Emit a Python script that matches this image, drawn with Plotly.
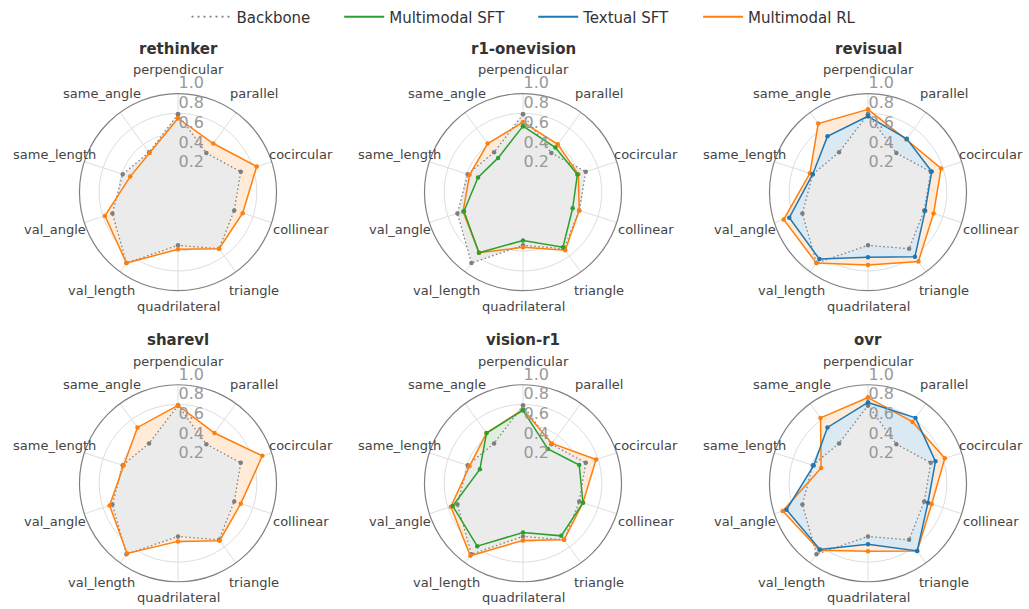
import math
import plotly.graph_objects as go

categories = ["perpendicular", "parallel", "cocircular", "collinear", "triangle",
              "quadrilateral", "val_length", "val_angle", "same_length", "same_angle"]

backbone = [0.79, 0.49, 0.67, 0.60, 0.71, 0.54, 0.89, 0.70, 0.59, 0.50]

panels = ["rethinker", "r1-onevision", "revisual", "sharevl", "vision-r1", "ovr"]

multimodal_sft = {
    "r1-onevision": [0.67, 0.56, 0.58, 0.53, 0.69, 0.49, 0.76, 0.63, 0.48, 0.43],
    "vision-r1":    [0.74, 0.43, 0.60, 0.64, 0.66, 0.50, 0.79, 0.75, 0.46, 0.63],
}
textual_sft = {
    "revisual": [0.77, 0.67, 0.68, 0.61, 0.81, 0.66, 0.84, 0.84, 0.59, 0.70],
    "ovr":      [0.82, 0.82, 0.72, 0.64, 0.85, 0.62, 0.83, 0.87, 0.58, 0.70],
}
multimodal_rl = {
    "rethinker":    [0.75, 0.61, 0.84, 0.69, 0.71, 0.58, 0.89, 0.78, 0.51, 0.49],
    "r1-onevision": [0.71, 0.60, 0.59, 0.60, 0.73, 0.56, 0.76, 0.64, 0.57, 0.61],
    "revisual":     [0.84, 0.66, 0.78, 0.70, 0.87, 0.74, 0.89, 0.90, 0.62, 0.86],
    "sharevl":      [0.79, 0.63, 0.90, 0.67, 0.72, 0.59, 0.88, 0.73, 0.58, 0.70],
    "vision-r1":    [0.75, 0.50, 0.78, 0.64, 0.71, 0.58, 0.91, 0.77, 0.57, 0.63],
    "ovr":          [0.87, 0.77, 0.82, 0.68, 0.85, 0.69, 0.84, 0.91, 0.50, 0.82],
}

radial_ticks = [0.2, 0.4, 0.6, 0.8, 1.0]
radial_labels = ["0.2", "0.4", "0.6", "0.8", "1.0"]

legend_names = ["Backbone", "Multimodal SFT", "Textual SFT", "Multimodal RL"]

W, H = 1029, 609
centers_x = [178, 523, 868]
centers_y = [188, 482]
title_y = [43, 337]
R = 99.5
LABEL_RX, LABEL_RY, LABEL_RY_BOTTOM = 1.30, 1.24, 1.16

GRAY = "#7f7f7f"
GREEN = "#2ca02c"
BLUE = "#1f77b4"
ORANGE = "#ff7f0e"
FILL_ALPHA = 0.16
BACKBONE_FILL = "#ebebeb"
DOT = "1.5px,2.5px"

def tint(hexc, a):
    h = hexc.lstrip("#")
    rgb = [int(h[j:j + 2], 16) for j in (0, 2, 4)]
    return "rgb(%d,%d,%d)" % tuple(round(255 - a * (255 - c)) for c in rgb)

fig = go.Figure()

def closed(vals):
    return vals + [vals[0]], categories + [categories[0]]

annotations = []
for i, p in enumerate(panels):
    sub = "polar" if i == 0 else "polar%d" % (i + 1)
    cx = centers_x[i % 3]
    cy = centers_y[i // 3]
    series = []
    if p in multimodal_rl:
        series.append((multimodal_rl[p], ORANGE))
    if p in textual_sft:
        series.append((textual_sft[p], BLUE))
    if p in multimodal_sft:
        series.append((multimodal_sft[p], GREEN))
    # fills: colored first, then backbone (neutral light gray)
    for vals, col in series:
        r, th = closed(vals)
        fig.add_trace(go.Scatterpolar(r=r, theta=th, mode="none", fill="toself",
                                      fillcolor=tint(col, FILL_ALPHA), subplot=sub,
                                      showlegend=False, hoverinfo="skip"))
    rb, thb = closed(backbone)
    fig.add_trace(go.Scatterpolar(r=rb, theta=thb, mode="none", fill="toself",
                                  fillcolor=BACKBONE_FILL, subplot=sub,
                                  showlegend=False, hoverinfo="skip"))
    # lines
    fig.add_trace(go.Scatterpolar(r=rb, theta=thb, mode="lines+markers",
                                  line=dict(color=GRAY, width=1.3, dash=DOT),
                                  marker=dict(color=GRAY, size=4.5),
                                  subplot=sub, showlegend=False))
    for vals, col in series:
        r, th = closed(vals)
        fig.add_trace(go.Scatterpolar(r=r, theta=th, mode="lines+markers",
                                      line=dict(color=col, width=1.5),
                                      marker=dict(color=col, size=4.5),
                                      subplot=sub, showlegend=False))

    polar = dict(
        domain=dict(x=[(cx - R) / W, (cx + R) / W], y=[1 - (cy + R) / H, 1 - (cy - R) / H]),
        bgcolor="rgba(0,0,0,0)",
        angularaxis=dict(
            categoryorder="array", categoryarray=categories,
            rotation=90, direction="clockwise",
            showline=True, linecolor="#808080", linewidth=1.2,
            gridcolor="#dedede", gridwidth=1, layer="above traces",
            ticks="", showticklabels=False,
        ),
        radialaxis=dict(
            range=[0, 1], tickvals=radial_ticks,
            ticktext=[t + "<br>\u00a0" for t in radial_labels],
            angle=90, tickangle=90, showline=False, ticks="",
            gridcolor="#dedede", gridwidth=1, layer="above traces",
            tickfont=dict(size=16, color="#999999"),
        ),
    )
    fig.update_layout(**{sub: polar})
    annotations.append(dict(
        text="<b>%s</b>" % p, x=cx / W, y=1 - title_y[i // 3] / H, xref="paper", yref="paper",
        showarrow=False, font=dict(size=15, color="#333333"),
        xanchor="center", yanchor="middle",
    ))
    # category labels around the circle
    n = len(categories)
    for k, cat in enumerate(categories):
        ang = math.radians(90 - 360.0 * k / n)
        s = math.sin(ang)
        ry = LABEL_RY_BOTTOM if s < -0.99 else LABEL_RY
        lx = cx + LABEL_RX * R * math.cos(ang)
        ly = cy - ry * R * s
        annotations.append(dict(
            text=cat, x=lx / W, y=1 - ly / H, xref="paper", yref="paper",
            showarrow=False, font=dict(size=13, color="#444444"),
            xanchor="center", yanchor="middle",
        ))

# legend entries
legend_styles = [(GRAY, "2px,4px", 1.8), (GREEN, "solid", 2), (BLUE, "solid", 2), (ORANGE, "solid", 2)]
for j, (name, (col, dash, lw)) in enumerate(zip(legend_names, legend_styles)):
    pad = "\u00a0" * 5 if j < len(legend_names) - 1 else ""
    fig.add_trace(go.Scatterpolar(r=[None], theta=[categories[0]], mode="lines", name=name + pad,
                                  line=dict(color=col, width=lw, dash=dash),
                                  subplot="polar", showlegend=True))

fig.update_layout(
    width=W, height=H,
    margin=dict(l=0, r=0, t=0, b=0),
    paper_bgcolor="white",
    font=dict(family="DejaVu Sans", color="#444444"),
    annotations=annotations,
    legend=dict(orientation="h", x=524 / W, xanchor="center", y=1 - 11 / H, yanchor="middle",
                font=dict(size=15, color="#333333"), itemwidth=40,
                bgcolor="rgba(0,0,0,0)"),
)

fig.write_html("out.html", config={"displayModeBar": False},
               post_script="document.body.style.margin='0';document.body.style.overflow='hidden';")
